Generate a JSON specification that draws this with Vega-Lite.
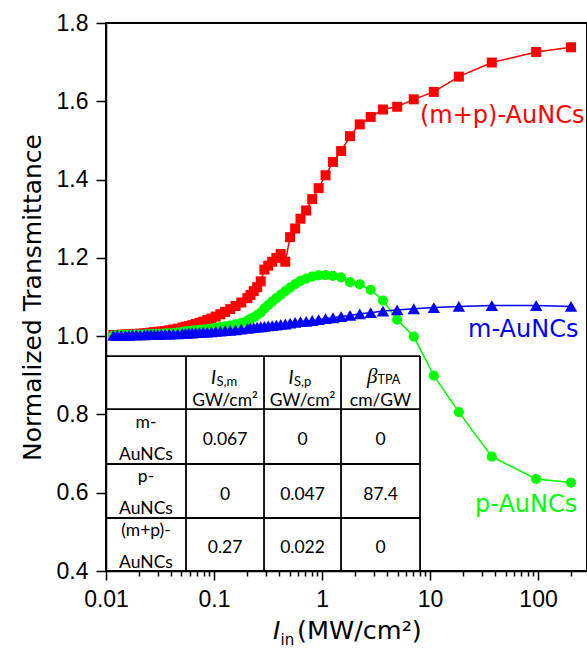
{
  "$schema": "https://vega.github.io/schema/vega-lite/v6.json",
  "width": 481,
  "height": 548,
  "autosize": "none",
  "padding": {"left": 106, "top": 23, "right": 0, "bottom": 77},
  "background": "white",
  "config": {
    "view": {"stroke": "black", "strokeWidth": 2},
    "axis": {"grid": false, "domainColor": "black", "domainWidth": 1.5, "tickColor": "black", "tickWidth": 1.5, "labelColor": "black", "labelFont": "Liberation Sans", "labelFontSize": 23, "titleColor": "black", "titleFont": "DejaVu Sans", "titleFontWeight": "normal"}
  },
  "datasets": {
    "curves": [
      {"s":"mp","x":202,"y":1.738},{"s":"mp","x":96.08,"y":1.726},{"s":"mp","x":37.34,"y":1.699},{"s":"mp","x":18.49,"y":1.663},{"s":"mp","x":10.84,"y":1.624},{"s":"mp","x":7.072,"y":1.605},{"s":"mp","x":4.964,"y":1.586},{"s":"mp","x":3.671,"y":1.579},{"s":"mp","x":2.823,"y":1.560},{"s":"mp","x":2.237,"y":1.541},{"s":"mp","x":1.816,"y":1.511},{"s":"mp","x":1.503,"y":1.473},{"s":"mp","x":1.264,"y":1.445},{"s":"mp","x":1.078,"y":1.411},{"s":"mp","x":0.9305,"y":1.378},{"s":"mp","x":0.811,"y":1.350},{"s":"mp","x":0.7132,"y":1.321},{"s":"mp","x":0.632,"y":1.300},{"s":"mp","x":0.5639,"y":1.275},{"s":"mp","x":0.5063,"y":1.253},{"s":"mp","x":0.457,"y":1.190},{"s":"mp","x":0.4146,"y":1.210},{"s":"mp","x":0.3778,"y":1.200},{"s":"mp","x":0.3458,"y":1.190},{"s":"mp","x":0.3176,"y":1.180},{"s":"mp","x":0.2927,"y":1.170},{"s":"mp","x":0.2707,"y":1.140},{"s":"mp","x":0.251,"y":1.125},{"s":"mp","x":0.2334,"y":1.115},{"s":"mp","x":0.2176,"y":1.105},{"s":"mp","x":0.2034,"y":1.097},{"s":"mp","x":0.1788,"y":1.086},{"s":"mp","x":0.1584,"y":1.077},{"s":"mp","x":0.1413,"y":1.069},{"s":"mp","x":0.1268,"y":1.062},{"s":"mp","x":0.1145,"y":1.056},{"s":"mp","x":0.1038,"y":1.050},{"s":"mp","x":0.0946,"y":1.045},{"s":"mp","x":0.08655,"y":1.041},{"s":"mp","x":0.07949,"y":1.037},{"s":"mp","x":0.07326,"y":1.034},{"s":"mp","x":0.06774,"y":1.031},{"s":"mp","x":0.06281,"y":1.028},{"s":"mp","x":0.05841,"y":1.026},{"s":"mp","x":0.05445,"y":1.024},{"s":"mp","x":0.05088,"y":1.022},{"s":"mp","x":0.04615,"y":1.019},{"s":"mp","x":0.04205,"y":1.017},{"s":"mp","x":0.03848,"y":1.015},{"s":"mp","x":0.03534,"y":1.013},{"s":"mp","x":0.03257,"y":1.012},{"s":"mp","x":0.03011,"y":1.011},{"s":"mp","x":0.02792,"y":1.010},{"s":"mp","x":0.02596,"y":1.009},{"s":"mp","x":0.0242,"y":1.008},{"s":"mp","x":0.02262,"y":1.007},{"s":"mp","x":0.02073,"y":1.006},{"s":"mp","x":0.01908,"y":1.006},{"s":"mp","x":0.01761,"y":1.005},{"s":"mp","x":0.01631,"y":1.005},{"s":"mp","x":0.01514,"y":1.004},{"s":"mp","x":0.01385,"y":1.004},{"s":"mp","x":0.01272,"y":1.003},{"s":"mp","x":0.01173,"y":1.003},
      {"s":"p","x":202,"y":0.626},{"s":"p","x":96.08,"y":0.635},{"s":"p","x":37.34,"y":0.692},{"s":"p","x":18.49,"y":0.806},{"s":"p","x":10.84,"y":0.899},{"s":"p","x":7.072,"y":0.999},{"s":"p","x":4.964,"y":1.042},{"s":"p","x":3.671,"y":1.091},{"s":"p","x":2.823,"y":1.118},{"s":"p","x":2.237,"y":1.132},{"s":"p","x":1.816,"y":1.138},{"s":"p","x":1.503,"y":1.150},{"s":"p","x":1.264,"y":1.154},{"s":"p","x":1.078,"y":1.156},{"s":"p","x":0.9305,"y":1.155},{"s":"p","x":0.811,"y":1.152},{"s":"p","x":0.7132,"y":1.147},{"s":"p","x":0.632,"y":1.141},{"s":"p","x":0.5639,"y":1.133},{"s":"p","x":0.5063,"y":1.124},{"s":"p","x":0.457,"y":1.115},{"s":"p","x":0.4146,"y":1.106},{"s":"p","x":0.3778,"y":1.097},{"s":"p","x":0.3458,"y":1.088},{"s":"p","x":0.3176,"y":1.079},{"s":"p","x":0.2927,"y":1.071},{"s":"p","x":0.2707,"y":1.060},{"s":"p","x":0.251,"y":1.054},{"s":"p","x":0.2334,"y":1.048},{"s":"p","x":0.2176,"y":1.044},{"s":"p","x":0.2034,"y":1.040},{"s":"p","x":0.1788,"y":1.034},{"s":"p","x":0.1584,"y":1.030},{"s":"p","x":0.1413,"y":1.027},{"s":"p","x":0.1268,"y":1.025},{"s":"p","x":0.1145,"y":1.023},{"s":"p","x":0.1038,"y":1.021},{"s":"p","x":0.0946,"y":1.019},{"s":"p","x":0.08655,"y":1.018},{"s":"p","x":0.07949,"y":1.017},{"s":"p","x":0.07326,"y":1.016},{"s":"p","x":0.06774,"y":1.015},{"s":"p","x":0.06281,"y":1.014},{"s":"p","x":0.05841,"y":1.013},{"s":"p","x":0.05445,"y":1.012},{"s":"p","x":0.05088,"y":1.011},{"s":"p","x":0.04615,"y":1.009},{"s":"p","x":0.04205,"y":1.008},{"s":"p","x":0.03848,"y":1.007},{"s":"p","x":0.03534,"y":1.007},{"s":"p","x":0.03257,"y":1.006},{"s":"p","x":0.03011,"y":1.006},{"s":"p","x":0.02792,"y":1.005},{"s":"p","x":0.02596,"y":1.005},{"s":"p","x":0.0242,"y":1.005},{"s":"p","x":0.02262,"y":1.004},{"s":"p","x":0.02073,"y":1.004},{"s":"p","x":0.01908,"y":1.004},{"s":"p","x":0.01761,"y":1.003},{"s":"p","x":0.01631,"y":1.003},{"s":"p","x":0.01514,"y":1.003},{"s":"p","x":0.01385,"y":1.003},{"s":"p","x":0.01272,"y":1.002},{"s":"p","x":0.01173,"y":1.002},
      {"s":"m","x":202,"y":1.076},{"s":"m","x":96.08,"y":1.078},{"s":"m","x":37.34,"y":1.078},{"s":"m","x":18.49,"y":1.076},{"s":"m","x":10.84,"y":1.073},{"s":"m","x":7.072,"y":1.070},{"s":"m","x":4.964,"y":1.067},{"s":"m","x":3.671,"y":1.064},{"s":"m","x":2.823,"y":1.060},{"s":"m","x":2.237,"y":1.057},{"s":"m","x":1.816,"y":1.053},{"s":"m","x":1.503,"y":1.050},{"s":"m","x":1.264,"y":1.047},{"s":"m","x":1.078,"y":1.045},{"s":"m","x":0.9305,"y":1.042},{"s":"m","x":0.811,"y":1.040},{"s":"m","x":0.7132,"y":1.038},{"s":"m","x":0.632,"y":1.037},{"s":"m","x":0.5639,"y":1.035},{"s":"m","x":0.5063,"y":1.033},{"s":"m","x":0.457,"y":1.031},{"s":"m","x":0.4146,"y":1.030},{"s":"m","x":0.3778,"y":1.028},{"s":"m","x":0.3458,"y":1.027},{"s":"m","x":0.3176,"y":1.026},{"s":"m","x":0.2927,"y":1.025},{"s":"m","x":0.2707,"y":1.024},{"s":"m","x":0.251,"y":1.023},{"s":"m","x":0.2334,"y":1.022},{"s":"m","x":0.2176,"y":1.021},{"s":"m","x":0.2034,"y":1.020},{"s":"m","x":0.1788,"y":1.018},{"s":"m","x":0.1584,"y":1.016},{"s":"m","x":0.1413,"y":1.015},{"s":"m","x":0.1268,"y":1.014},{"s":"m","x":0.1145,"y":1.013},{"s":"m","x":0.1038,"y":1.012},{"s":"m","x":0.0946,"y":1.011},{"s":"m","x":0.08655,"y":1.010},{"s":"m","x":0.07949,"y":1.010},{"s":"m","x":0.07326,"y":1.009},{"s":"m","x":0.06774,"y":1.009},{"s":"m","x":0.06281,"y":1.008},{"s":"m","x":0.05841,"y":1.008},{"s":"m","x":0.05445,"y":1.007},{"s":"m","x":0.05088,"y":1.007},{"s":"m","x":0.04615,"y":1.006},{"s":"m","x":0.04205,"y":1.006},{"s":"m","x":0.03848,"y":1.005},{"s":"m","x":0.03534,"y":1.005},{"s":"m","x":0.03257,"y":1.005},{"s":"m","x":0.03011,"y":1.004},{"s":"m","x":0.02792,"y":1.004},{"s":"m","x":0.02596,"y":1.004},{"s":"m","x":0.0242,"y":1.004},{"s":"m","x":0.02262,"y":1.003},{"s":"m","x":0.02073,"y":1.003},{"s":"m","x":0.01908,"y":1.003},{"s":"m","x":0.01761,"y":1.003},{"s":"m","x":0.01631,"y":1.002},{"s":"m","x":0.01514,"y":1.002},{"s":"m","x":0.01385,"y":1.002},{"s":"m","x":0.01272,"y":1.002},{"s":"m","x":0.01173,"y":1.002}
    ],
    "grid": [
      {"x":0.05503,"xe":0.05503,"y":0.4,"ye":0.9492},
      {"x":0.2904,"xe":0.2904,"y":0.4,"ye":0.9492},
      {"x":1.4996,"xe":1.4996,"y":0.4,"ye":0.9492},
      {"x":8.081,"xe":8.081,"y":0.4,"ye":0.9492},
      {"x":0.01,"xe":8.081,"y":0.9492,"ye":0.9492},
      {"x":0.01,"xe":8.081,"y":0.8138,"ye":0.8138},
      {"x":0.01,"xe":8.081,"y":0.6733,"ye":0.6733},
      {"x":0.01,"xe":8.081,"y":0.5354,"ye":0.5354}
    ],
    "cells": [
      {"k":"l1","x":0.02346,"y":0.7435,"t":"m-"},{"k":"l2","x":0.02346,"y":0.7435,"t":"AuNCs"},
      {"k":"l1","x":0.02346,"y":0.6043,"t":"p-"},{"k":"l2","x":0.02346,"y":0.6043,"t":"AuNCs"},
      {"k":"l1","x":0.02346,"y":0.4676,"t":"(m+p)-"},{"k":"l2","x":0.02346,"y":0.4676,"t":"AuNCs"},
      {"k":"v","x":0.1265,"y":0.7435,"t":"0.067"},{"k":"v","x":0.6597,"y":0.7435,"t":"0"},{"k":"v","x":3.481,"y":0.7435,"t":"0"},
      {"k":"v","x":0.1265,"y":0.6043,"t":"0"},{"k":"v","x":0.6597,"y":0.6043,"t":"0.047"},{"k":"v","x":3.481,"y":0.6043,"t":"87.4"},
      {"k":"v","x":0.1265,"y":0.4676,"t":"0.27"},{"k":"v","x":0.6597,"y":0.4676,"t":"0.022"},{"k":"v","x":3.481,"y":0.4676,"t":"0"},
      {"k":"h2","x":0.1265,"y":0.8815,"t":"GW/cm²"},{"k":"h2","x":0.6597,"y":0.8815,"t":"GW/cm²"},{"k":"h2","x":3.481,"y":0.8815,"t":"cm/GW"},
      {"k":"hi","x":0.1265,"y":0.8815,"t":"I"},{"k":"hi","x":0.6597,"y":0.8815,"t":"I"},
      {"k":"hs","x":0.1265,"y":0.8815,"t":"S,m"},{"k":"hs","x":0.6597,"y":0.8815,"t":"S,p"},
      {"k":"hb","x":3.481,"y":0.8815,"t":"β"},{"k":"hbs","x":3.481,"y":0.8815,"t":"TPA"}
    ],
    "notes": [
      {"s":"mp","x":8.07,"y":1.562,"t":"(m+p)-AuNCs"},
      {"s":"m","x":22.5,"y":1.0156,"t":"m-AuNCs"},
      {"s":"p","x":26.1,"y":0.5685,"t":"p-AuNCs"}
    ],
    "xt": [
      {"k":"I","x":0.3518,"y":0.4,"t":"I"},
      {"k":"sub","x":0.4128,"y":0.4,"t":"in"},
      {"k":"rest","x":0.5869,"y":0.4,"t":"(MW/cm²)"}
    ]
  },
  "layer": [
    {
      "data": {"name": "grid"},
      "mark": {"type": "rule", "color": "black", "strokeWidth": 1.8},
      "encoding": {
        "x": {"field": "x", "type": "quantitative", "scale": {"type": "log", "domain": [0.01, 284], "nice": false}},
        "x2": {"field": "xe"},
        "y": {"field": "y", "type": "quantitative", "scale": {"domain": [0.4, 1.8], "nice": false, "zero": false}},
        "y2": {"field": "ye"}
      }
    },
    {
      "data": {"name": "curves"},
      "mark": {"type": "line", "strokeWidth": 1.5},
      "encoding": {
        "x": {"field": "x", "type": "quantitative", "scale": {"type": "log", "domain": [0.01, 284], "nice": false},
          "axis": {"title": null, "values": [0.01,0.02,0.03,0.04,0.05,0.06,0.07,0.08,0.09,0.1,0.2,0.3,0.4,0.5,0.6,0.7,0.8,0.9,1,2,3,4,5,6,7,8,9,10,20,30,40,50,60,70,80,90,100,200],
            "labelExpr": "abs(log(datum.value)/LN10 - round(log(datum.value)/LN10)) < 0.001 ? format(datum.value, '~g') : ''",
            "tickSize": {"condition": {"test": "abs(log(datum.value)/LN10 - round(log(datum.value)/LN10)) < 0.001", "value": 9}, "value": 5},
            "labelFlush": false, "labelOverlap": false, "labelPadding": 8}},
        "y": {"field": "y", "type": "quantitative", "scale": {"domain": [0.4, 1.8], "nice": false, "zero": false},
          "axis": {"title": "Normalized Transmittance", "values": [0.4,0.5,0.6,0.7,0.8,0.9,1.0,1.1,1.2,1.3,1.4,1.5,1.6,1.7,1.8],
            "labelExpr": "abs(datum.value*5 - round(datum.value*5)) < 0.001 ? format(datum.value, '.1f') : ''",
            "tickSize": {"condition": {"test": "abs(datum.value*5 - round(datum.value*5)) < 0.001", "value": 10}, "value": 5},
            "labelFlush": false, "labelOverlap": false, "labelPadding": 8, "titlePadding": 11, "titleFontSize": 25}},
        "color": {"field": "s", "type": "nominal", "scale": {"domain": ["mp", "p", "m"], "range": ["#ff0000", "#00ff00", "#0000ff"]}, "legend": null},
        "detail": {"field": "s"}
      }
    },
    {
      "data": {"name": "curves"},
      "transform": [{"filter": "datum.s == 'mp'"}],
      "mark": {"type": "point", "shape": "square", "filled": true, "size": 100, "color": "#ff0000", "opacity": 1, "strokeWidth": 0},
      "encoding": {
        "x": {"field": "x", "type": "quantitative", "scale": {"type": "log", "domain": [0.01, 284], "nice": false}},
        "y": {"field": "y", "type": "quantitative", "scale": {"domain": [0.4, 1.8], "nice": false, "zero": false}}
      }
    },
    {
      "data": {"name": "curves"},
      "transform": [{"filter": "datum.s == 'p'"}],
      "mark": {"type": "point", "shape": "circle", "filled": true, "size": 104, "color": "#00ff00", "opacity": 1, "strokeWidth": 0},
      "encoding": {
        "x": {"field": "x", "type": "quantitative", "scale": {"type": "log", "domain": [0.01, 284], "nice": false}},
        "y": {"field": "y", "type": "quantitative", "scale": {"domain": [0.4, 1.8], "nice": false, "zero": false}}
      }
    },
    {
      "data": {"name": "curves"},
      "transform": [{"filter": "datum.s == 'm'"}],
      "mark": {"type": "point", "shape": "triangle-up", "filled": true, "size": 155, "color": "#0000ff", "opacity": 1, "strokeWidth": 0},
      "encoding": {
        "x": {"field": "x", "type": "quantitative", "scale": {"type": "log", "domain": [0.01, 284], "nice": false}},
        "y": {"field": "y", "type": "quantitative", "scale": {"domain": [0.4, 1.8], "nice": false, "zero": false}}
      }
    },
    {
      "data": {"name": "cells"},
      "transform": [{"filter": "datum.k == 'v'"}],
      "mark": {"type": "text", "font": "Lato", "fontSize": 17.5, "color": "black", "align": "center", "baseline": "alphabetic", "dy": 8.5},
      "encoding": {
        "x": {"field": "x", "type": "quantitative", "scale": {"type": "log", "domain": [0.01, 284], "nice": false}},
        "y": {"field": "y", "type": "quantitative", "scale": {"domain": [0.4, 1.8], "nice": false, "zero": false}},
        "text": {"field": "t"}
      }
    },
    {
      "data": {"name": "cells"},
      "transform": [{"filter": "datum.k == 'l1'"}],
      "mark": {"type": "text", "font": "Lato", "fontSize": 17.5, "color": "black", "align": "center", "baseline": "alphabetic", "dy": -9},
      "encoding": {
        "x": {"field": "x", "type": "quantitative", "scale": {"type": "log", "domain": [0.01, 284], "nice": false}},
        "y": {"field": "y", "type": "quantitative", "scale": {"domain": [0.4, 1.8], "nice": false, "zero": false}},
        "text": {"field": "t"}
      }
    },
    {
      "data": {"name": "cells"},
      "transform": [{"filter": "datum.k == 'l2'"}],
      "mark": {"type": "text", "font": "Lato", "fontSize": 17.5, "color": "black", "align": "center", "baseline": "alphabetic", "dy": 23},
      "encoding": {
        "x": {"field": "x", "type": "quantitative", "scale": {"type": "log", "domain": [0.01, 284], "nice": false}},
        "y": {"field": "y", "type": "quantitative", "scale": {"domain": [0.4, 1.8], "nice": false, "zero": false}},
        "text": {"field": "t"}
      }
    },
    {
      "data": {"name": "cells"},
      "transform": [{"filter": "datum.k == 'h2'"}],
      "mark": {"type": "text", "font": "Lato", "fontSize": 17.5, "color": "black", "align": "center", "baseline": "alphabetic", "dy": 23.5},
      "encoding": {
        "x": {"field": "x", "type": "quantitative", "scale": {"type": "log", "domain": [0.01, 284], "nice": false}},
        "y": {"field": "y", "type": "quantitative", "scale": {"domain": [0.4, 1.8], "nice": false, "zero": false}},
        "text": {"field": "t"}
      }
    },
    {
      "data": {"name": "cells"},
      "transform": [{"filter": "datum.k == 'hi'"}],
      "mark": {"type": "text", "font": "Lato", "fontStyle": "italic", "fontSize": 19, "color": "black", "align": "right", "baseline": "alphabetic", "dx": -9, "dy": 1},
      "encoding": {
        "x": {"field": "x", "type": "quantitative", "scale": {"type": "log", "domain": [0.01, 284], "nice": false}},
        "y": {"field": "y", "type": "quantitative", "scale": {"domain": [0.4, 1.8], "nice": false, "zero": false}},
        "text": {"field": "t"}
      }
    },
    {
      "data": {"name": "cells"},
      "transform": [{"filter": "datum.k == 'hs'"}],
      "mark": {"type": "text", "font": "Lato", "fontSize": 13, "color": "black", "align": "left", "baseline": "alphabetic", "dx": -8.5, "dy": 3},
      "encoding": {
        "x": {"field": "x", "type": "quantitative", "scale": {"type": "log", "domain": [0.01, 284], "nice": false}},
        "y": {"field": "y", "type": "quantitative", "scale": {"domain": [0.4, 1.8], "nice": false, "zero": false}},
        "text": {"field": "t"}
      }
    },
    {
      "data": {"name": "cells"},
      "transform": [{"filter": "datum.k == 'hb'"}],
      "mark": {"type": "text", "font": "Liberation Serif", "fontStyle": "italic", "fontSize": 21, "color": "black", "align": "right", "baseline": "alphabetic", "dx": -3, "dy": 0},
      "encoding": {
        "x": {"field": "x", "type": "quantitative", "scale": {"type": "log", "domain": [0.01, 284], "nice": false}},
        "y": {"field": "y", "type": "quantitative", "scale": {"domain": [0.4, 1.8], "nice": false, "zero": false}},
        "text": {"field": "t"}
      }
    },
    {
      "data": {"name": "cells"},
      "transform": [{"filter": "datum.k == 'hbs'"}],
      "mark": {"type": "text", "font": "Lato", "fontSize": 12.5, "color": "black", "align": "left", "baseline": "alphabetic", "dx": -3, "dy": 1},
      "encoding": {
        "x": {"field": "x", "type": "quantitative", "scale": {"type": "log", "domain": [0.01, 284], "nice": false}},
        "y": {"field": "y", "type": "quantitative", "scale": {"domain": [0.4, 1.8], "nice": false, "zero": false}},
        "text": {"field": "t"}
      }
    },
    {
      "data": {"name": "notes"},
      "mark": {"type": "text", "font": "DejaVu Sans", "fontSize": 24, "align": "left", "baseline": "middle"},
      "encoding": {
        "x": {"field": "x", "type": "quantitative", "scale": {"type": "log", "domain": [0.01, 284], "nice": false}},
        "y": {"field": "y", "type": "quantitative", "scale": {"domain": [0.4, 1.8], "nice": false, "zero": false}},
        "text": {"field": "t"},
        "color": {"field": "s", "type": "nominal", "scale": {"domain": ["mp", "p", "m"], "range": ["#ff0000", "#00ff00", "#0000ff"]}, "legend": null}
      }
    },
    {
      "data": {"name": "xt"},
      "transform": [{"filter": "datum.k == 'I'"}],
      "mark": {"type": "text", "font": "DejaVu Sans", "fontStyle": "italic", "fontSize": 25, "color": "black", "align": "left", "baseline": "alphabetic", "dy": 68},
      "encoding": {
        "x": {"field": "x", "type": "quantitative", "scale": {"type": "log", "domain": [0.01, 284], "nice": false}},
        "y": {"field": "y", "type": "quantitative", "scale": {"domain": [0.4, 1.8], "nice": false, "zero": false}},
        "text": {"field": "t"}
      }
    },
    {
      "data": {"name": "xt"},
      "transform": [{"filter": "datum.k == 'sub'"}],
      "mark": {"type": "text", "font": "DejaVu Sans", "fontSize": 15, "color": "black", "align": "left", "baseline": "alphabetic", "dy": 73.5},
      "encoding": {
        "x": {"field": "x", "type": "quantitative", "scale": {"type": "log", "domain": [0.01, 284], "nice": false}},
        "y": {"field": "y", "type": "quantitative", "scale": {"domain": [0.4, 1.8], "nice": false, "zero": false}},
        "text": {"field": "t"}
      }
    },
    {
      "data": {"name": "xt"},
      "transform": [{"filter": "datum.k == 'rest'"}],
      "mark": {"type": "text", "font": "DejaVu Sans", "fontSize": 25.5, "color": "black", "align": "left", "baseline": "alphabetic", "dy": 68},
      "encoding": {
        "x": {"field": "x", "type": "quantitative", "scale": {"type": "log", "domain": [0.01, 284], "nice": false}},
        "y": {"field": "y", "type": "quantitative", "scale": {"domain": [0.4, 1.8], "nice": false, "zero": false}},
        "text": {"field": "t"}
      }
    }
  ]
}
